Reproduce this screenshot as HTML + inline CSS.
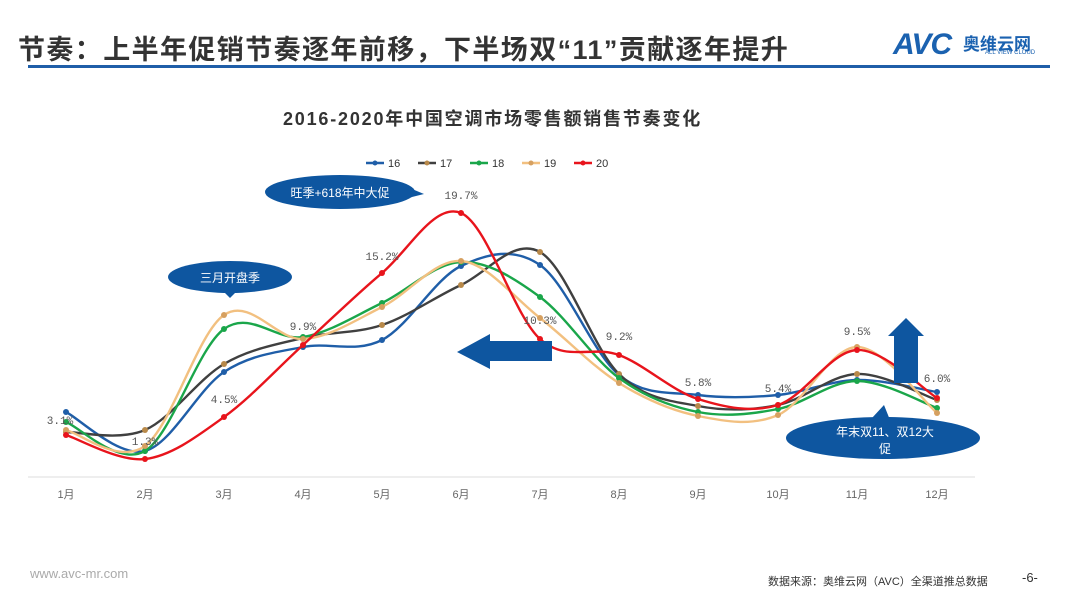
<!DOCTYPE html>
<html><head><meta charset="utf-8"><style>
body{margin:0;width:1080px;height:608px;background:#fff;overflow:hidden;font-family:"Liberation Sans","Noto Sans CJK SC",sans-serif;position:relative}
.t{position:absolute;white-space:nowrap}
</style></head><body>
<div class="t" style="left:18px;top:28px;font-size:27px;color:#333;font-weight:bold;letter-spacing:1.4px">节奏：上半年促销节奏逐年前移，下半场双“11”贡献逐年提升</div>
<div style="position:absolute;left:28px;top:65px;width:1022px;height:3px;background:#1f5ea8"></div>
<div class="t" style="left:893px;top:28px;font-size:30px;font-weight:bold;color:#1b62b0;font-style:italic;letter-spacing:-1px">AVC</div>
<div class="t" style="left:963px;top:30px;font-size:17px;font-weight:bold;color:#1b62b0">奥维云网</div>
<div class="t" style="left:985px;top:50px;font-size:6px;color:#1b62b0">ALL VIEW CLOUD</div>
<div class="t" style="left:283px;top:105px;font-size:18px;font-weight:bold;color:#333;letter-spacing:1.8px">2016-2020年中国空调市场零售额销售节奏变化</div>
<svg id="s" width="1080" height="608" style="position:absolute;left:0;top:0"></svg>
<div class="t" style="left:30px;top:566px;font-size:13px;color:#aaa">www.avc-mr.com</div>
<div class="t" style="left:768px;top:573px;font-size:11px;color:#333">数据来源：奥维云网（AVC）全渠道推总数据</div>
<div class="t" style="left:1022px;top:570px;font-size:13px;color:#333">-6-</div>
<script>
const X=[66,145,224,303,382,461,540,619,698,778,857,937];
const S=[
["16","#1f5ea8",[412,451,372,347,340,266,265,375,395,395,380,392],"#1f5ea8"],
["17","#404040",[432,430,364,338,325,285,252,374,406,405,374,400],"#b8894a"],
["18","#1aa64a",[422,451,329,337,303,262,297,378,412,409,381,408],"#1aa64a"],
["19","#f2c080",[430,446,315,339,307,261,318,383,416,415,347,413],"#d6a060"],
["20","#e8141c",[435,459,417,345,273,213,339,355,399,405,350,398],"#e8141c"]];
let h='<line x1="28" y1="477" x2="975" y2="477" stroke="#ddd"/>';
const M=['1月','2月','3月','4月','5月','6月','7月','8月','9月','10月','11月','12月'];
M.forEach((m,i)=>h+=`<text x="${X[i]}" y="498" font-size="11" fill="#666" text-anchor="middle">${m}</text>`);
function path(ys){let d=`M${X[0]},${ys[0]}`;for(let i=0;i<11;i++){const p0=[X[Math.max(i-1,0)],ys[Math.max(i-1,0)]],p1=[X[i],ys[i]],p2=[X[i+1],ys[i+1]],p3=[X[Math.min(i+2,11)],ys[Math.min(i+2,11)]];d+=` C${p1[0]+(p2[0]-p0[0])/6},${p1[1]+(p2[1]-p0[1])/6} ${p2[0]-(p3[0]-p1[0])/6},${p2[1]-(p3[1]-p1[1])/6} ${p2[0]},${p2[1]}`;}return d;}
S.forEach(s=>{h+=`<path d="${path(s[2])}" fill="none" stroke="${s[1]}" stroke-width="2.4"/>`;s[2].forEach((y,i)=>h+=`<circle cx="${X[i]}" cy="${y}" r="3" fill="${s[3]}"/>`);});
S.forEach((s,i)=>{const x=366+i*52;h+=`<line x1="${x}" y1="163" x2="${x+18}" y2="163" stroke="${s[1]}" stroke-width="2.5"/><circle cx="${x+9}" cy="163" r="2.5" fill="${s[3]}"/><text x="${x+22}" y="167" font-size="11" fill="#333">${s[0]}</text>`;});
const L=[[60,424,'3.1%'],[145,445,'1.3%'],[224,403,'4.5%'],[303,330,'9.9%'],[382,260,'15.2%'],[461,199,'19.7%'],[540,324,'10.3%'],[619,340,'9.2%'],[698,386,'5.8%'],[778,392,'5.4%'],[857,335,'9.5%'],[937,382,'6.0%']];
L.forEach(l=>h+=`<text x="${l[0]}" y="${l[1]}" font-size="11" fill="#555" text-anchor="middle" font-family="Liberation Mono,monospace">${l[2]}</text>`);
h+=`<ellipse cx="340" cy="192" rx="75" ry="17" fill="#0e56a0"/><path d="M400,184 L424,194 L400,200Z" fill="#0e56a0"/><text x="340" y="197" font-size="12" fill="#fff" text-anchor="middle">旺季+618年中大促</text>`;
h+=`<ellipse cx="230" cy="277" rx="62" ry="16" fill="#0e56a0"/><path d="M222,290 L230,298 L238,290Z" fill="#0e56a0"/><text x="230" y="282" font-size="12" fill="#fff" text-anchor="middle">三月开盘季</text>`;
h+=`<path d="M457,352 L490,334 L490,341 L552,341 L552,361 L490,361 L490,369Z" fill="#0e56a0"/>`;
h+=`<path d="M906,318 L924,336 L918,336 L918,383 L894,383 L894,336 L888,336Z" fill="#0e56a0"/>`;
h+=`<path d="M872,418 L884,405 L890,420Z" fill="#0e56a0"/><ellipse cx="883" cy="438" rx="97" ry="21" fill="#0e56a0"/><text x="885" y="436" font-size="12" fill="#fff" text-anchor="middle">年末双11、双12大</text><text x="885" y="453" font-size="12" fill="#fff" text-anchor="middle">促</text>`;
document.getElementById('s').innerHTML=h;
</script>
</body></html>
